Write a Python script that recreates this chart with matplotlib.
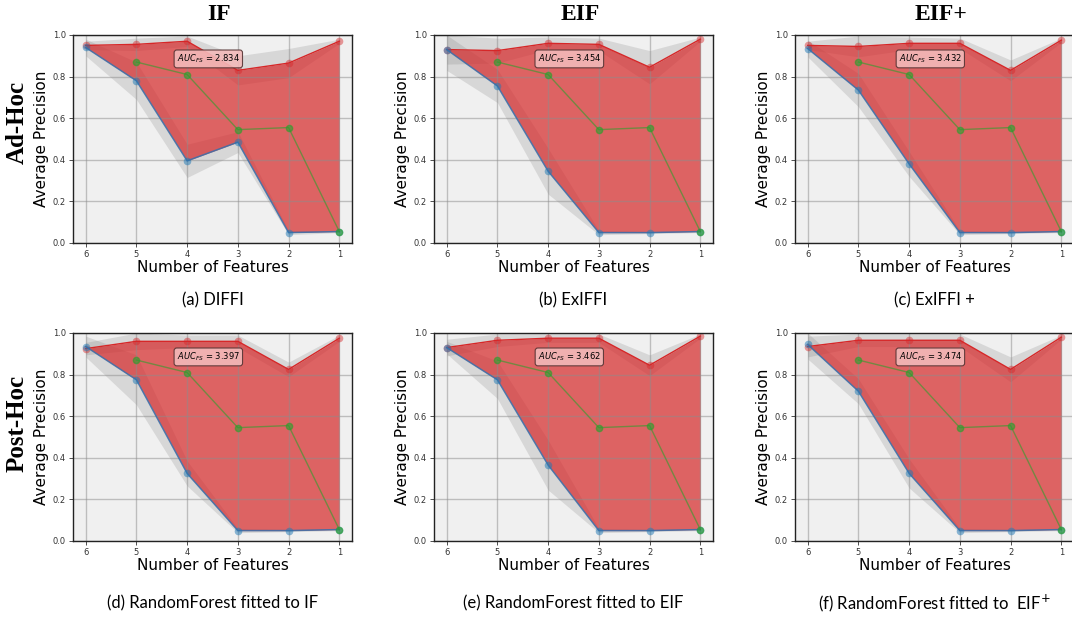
import matplotlib
matplotlib.use("Agg")
import matplotlib.pyplot as plt
import numpy as np

n_features = [6, 5, 4, 3, 2, 1]
random_features = [5, 4, 3, 2, 1]
random_ap = [0.87, 0.81, 0.545, 0.555, 0.055]

col_titles = ["IF", "EIF", "EIF+"]
row_titles = ["Ad-Hoc", "Post-Hoc"]
captions = ["(a) DIFFI", "(b) ExIFFI", "(c) ExIFFI +",
            "(d) RandomForest fitted to IF", "(e) RandomForest fitted to EIF",
            "(f) RandomForest fitted to  EIF$^{+}$"]
auc_values = [2.834, 3.454, 3.432, 3.397, 3.462, 3.474]

direct_a = [0.95, 0.955, 0.97, 0.83, 0.865, 0.97]
inverse_a = [0.94, 0.78, 0.395, 0.485, 0.05, 0.055]
direct_std_a = [0.02, 0.03, 0.025, 0.07, 0.07, 0.01]
inverse_std_a = [0.04, 0.09, 0.08, 0.05, 0.01, 0.005]

direct_b = [0.93, 0.925, 0.96, 0.955, 0.845, 0.98]
inverse_b = [0.93, 0.755, 0.345, 0.05, 0.05, 0.055]
direct_std_b = [0.07, 0.06, 0.03, 0.03, 0.08, 0.01]
inverse_std_b = [0.1, 0.08, 0.11, 0.01, 0.005, 0.005]

direct_c = [0.95, 0.945, 0.96, 0.96, 0.83, 0.975]
inverse_c = [0.935, 0.735, 0.38, 0.05, 0.05, 0.055]
direct_std_c = [0.02, 0.05, 0.03, 0.025, 0.05, 0.01]
inverse_std_c = [0.04, 0.08, 0.06, 0.01, 0.005, 0.005]

direct_d = [0.925, 0.96, 0.96, 0.96, 0.825, 0.975]
inverse_d = [0.935, 0.775, 0.325, 0.05, 0.05, 0.055]
direct_std_d = [0.03, 0.04, 0.03, 0.03, 0.035, 0.015]
inverse_std_d = [0.05, 0.12, 0.06, 0.01, 0.005, 0.005]

direct_e = [0.93, 0.965, 0.975, 0.975, 0.845, 0.985]
inverse_e = [0.93, 0.775, 0.365, 0.05, 0.05, 0.055]
direct_std_e = [0.04, 0.03, 0.02, 0.02, 0.05, 0.01]
inverse_std_e = [0.03, 0.09, 0.12, 0.01, 0.005, 0.005]

direct_f = [0.935, 0.965, 0.965, 0.965, 0.825, 0.98]
inverse_f = [0.945, 0.72, 0.325, 0.05, 0.05, 0.055]
direct_std_f = [0.05, 0.03, 0.03, 0.03, 0.06, 0.01]
inverse_std_f = [0.07, 0.06, 0.07, 0.01, 0.005, 0.005]

panels = [
    (direct_a, inverse_a, direct_std_a, inverse_std_a),
    (direct_b, inverse_b, direct_std_b, inverse_std_b),
    (direct_c, inverse_c, direct_std_c, inverse_std_c),
    (direct_d, inverse_d, direct_std_d, inverse_std_d),
    (direct_e, inverse_e, direct_std_e, inverse_std_e),
    (direct_f, inverse_f, direct_std_f, inverse_std_f),
]

W, H = 1072, 622
fig = plt.figure(figsize=(W / 100, H / 100), dpi=100)
fig.patch.set_facecolor("white")

col_left = [73, 434, 795]
ax_w = 279
row_top = [35, 333]
ax_h = 208

x = np.array(n_features)
for i, (d, inv, dstd, istd) in enumerate(panels):
    r, c = divmod(i, 3)
    left = col_left[c] / W
    bottom = 1 - (row_top[r] + ax_h) / H
    ax = fig.add_axes([left, bottom, ax_w / W, ax_h / H])
    ax.set_facecolor("#f0f0f0")
    d = np.array(d); inv = np.array(inv)
    dstd = np.array(dstd); istd = np.array(istd)
    ax.fill_between(x, np.clip(d - dstd, 0, 1), np.clip(d + dstd, 0, 1),
                    color="grey", alpha=0.22, lw=0, zorder=2)
    ax.fill_between(x, np.clip(inv - istd, 0, 1), np.clip(inv + istd, 0, 1),
                    color="grey", alpha=0.22, lw=0, zorder=2)
    ax.fill_between(x, inv, d, color="tab:red", alpha=0.7, lw=0, zorder=2.5)
    ax.plot(x, d, color="tab:red", lw=1.0, marker="o", ms=5.5,
            markerfacecolor=(0.84, 0.15, 0.16, 0.45), markeredgecolor="none", zorder=4)
    ax.plot(x, inv, color="#3f6fa8", lw=1.1, alpha=0.9, zorder=4)
    ax.plot(x, inv, ls="none", marker="o", ms=5.5,
            markerfacecolor=(0.12, 0.47, 0.71, 0.5), markeredgecolor="none", zorder=4)
    ax.plot(random_features, random_ap, color="tab:green", lw=1.0, alpha=0.6,
            marker="o", ms=4.5, zorder=5)
    ax.set_xlim(6.25, 0.75)
    ax.set_ylim(0, 1.0)
    ax.set_xticks(n_features)
    ax.set_yticks([0.0, 0.2, 0.4, 0.6, 0.8, 1.0])
    ax.set_yticklabels(["0.0", "0.2", "0.4", "0.6", "0.8", "1.0"])
    ax.tick_params(labelsize=6, colors="#333333", length=3, width=0.6, pad=2)
    ax.grid(True, color="#8c8c8c", lw=1.0, alpha=0.5, zorder=3)
    ax.set_axisbelow(False)
    for s in ax.spines.values():
        s.set_color("#222222")
        s.set_linewidth(1.0)
        s.set_zorder(10)
    ax.set_xlabel("Number of Features", fontsize=11, labelpad=1)
    ax.set_ylabel("Average Precision", fontsize=11, labelpad=3)
    ax.text(0.485, 0.885, r"$AUC_{FS}$ = %.3f" % auc_values[i], transform=ax.transAxes,
            ha="center", va="center", fontsize=6, zorder=12,
            bbox=dict(boxstyle="round,pad=0.32", facecolor="#f3b9b9", alpha=0.9,
                      edgecolor="#553333", lw=0.8))

    cap_y = [300, 603][r]
    fig.text((col_left[c] + ax_w / 2) / W, 1 - cap_y / H, captions[i],
             ha="center", va="center", fontsize=12, family="Lato")

for c, t in enumerate(col_titles):
    fig.text((col_left[c] + 146) / W, 1 - 15 / H, t, ha="center", va="center",
             fontsize=17, fontweight="bold", family="Liberation Serif")
for r, t in enumerate(row_titles):
    fig.text(17 / W, 1 - [122, 423][r] / H, t, ha="center", va="center",
             rotation=90, fontsize=18, fontweight="bold", family="Liberation Serif")

fig.savefig("out.png", dpi=100)
